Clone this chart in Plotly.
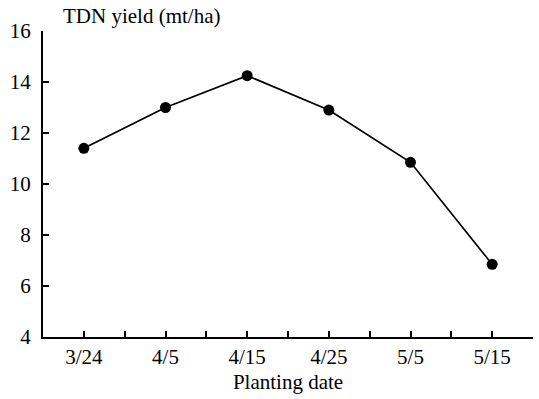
import plotly.graph_objects as go

dates = ["3/24", "4/5", "4/15", "4/25", "5/5", "5/15"]
tdn_yield = [11.4, 13.0, 14.25, 12.9, 10.85, 6.85]
y_ticks = [4, 6, 8, 10, 12, 14, 16]

FONT = "Liberation Serif, Times New Roman, serif"
FS = 21

x_idx = list(range(len(dates)))
half_ticks = [i * 0.5 - 0.5 for i in range(2 * len(dates) + 1)]
half_text = [dates[int(v)] if float(v).is_integer() else "" for v in half_ticks]

fig = go.Figure()
fig.add_trace(go.Scatter(
    x=x_idx, y=tdn_yield, mode="lines+markers",
    line=dict(color="black", width=1.7),
    marker=dict(color="black", size=11),
    showlegend=False, cliponaxis=False,
))

fig.update_layout(
    width=539, height=399,
    margin=dict(l=43, r=6, t=31, b=62),
    paper_bgcolor="white", plot_bgcolor="white",
    font=dict(family=FONT, size=FS, color="black"),
    xaxis=dict(
        range=[-0.5, 5.5], tickmode="array", tickvals=half_ticks, ticktext=half_text,
        ticks="inside", ticklen=6, tickwidth=1.5, tickcolor="black",
        showline=True, linecolor="black", linewidth=2, showgrid=False, zeroline=False,
        title=dict(text="Planting date", font=dict(size=FS), standoff=6),
        tickfont=dict(size=FS),
    ),
    yaxis=dict(
        range=[4, 16], tickmode="array", tickvals=y_ticks,
        ticks="inside", ticklen=6, tickwidth=1.5, tickcolor="black",
        showline=True, linecolor="black", linewidth=2, showgrid=False, zeroline=False,
        tickfont=dict(size=FS), ticklabelstandoff=6,
    ),
    annotations=[dict(
        text="TDN yield (mt/ha)", xref="paper", yref="paper",
        x=0.036, y=1.049, xanchor="left", yanchor="middle",
        showarrow=False, font=dict(size=FS, family=FONT),
    )],
)

fig.write_html("out.html")
